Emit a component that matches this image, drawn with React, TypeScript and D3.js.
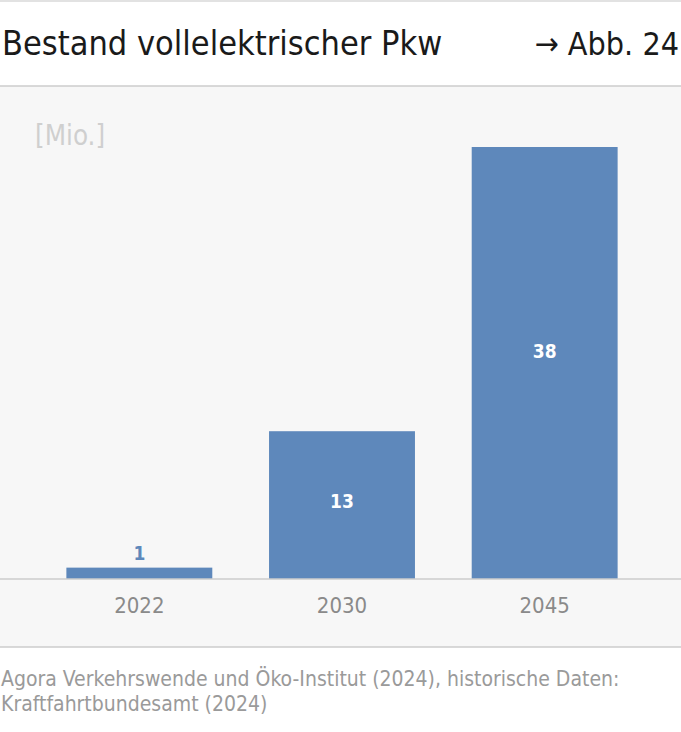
import React from "react";
import * as d3 from "d3";

const categories = ["2022", "2030", "2045"];
const values = [1, 13, 38];
const valueLabels = ["1", "13", "38"];
const title = "Bestand vollelektrischer Pkw";
const figRef = "→ Abb. 24";
const unitLabel = "[Mio.]";
const sourceLines = [
  "Agora Verkehrswende und Öko-Institut (2024), historische Daten:",
  "Kraftfahrtbundesamt (2024)",
];

const W = 681;
const H = 732;
const FONT = "'DejaVu Sans Condensed', 'Liberation Sans Narrow', 'Roboto', sans-serif";

export default function App() {
  const baseY = 579;
  const x = d3
    .scaleBand<string>()
    .domain(categories)
    .range([38, 646])
    .paddingInner(0.28)
    .paddingOuter(0.14);
  const y = d3.scaleLinear().domain([0, 38]).range([baseY, 147]);
  const barColor = "#5e88bb";

  return (
    <svg
      width={W}
      height={H}
      style={{ position: "absolute", left: 0, top: 0, background: "#fff" }}
      fontFamily={FONT}
    >
      <rect x={0} y={0} width={W} height={H} fill="#fff" />
      <line x1={0} x2={W} y1={1} y2={1} stroke="#d9d9d9" strokeWidth={1.5} />
      <text x={2} y={55} fontSize={34} fill="#1a1a1a">
        {title}
      </text>
      <text x={679} y={55} fontSize={32} fill="#1a1a1a" textAnchor="end">
        {figRef}
      </text>
      <rect x={0} y={86} width={W} height={561} fill="#f7f7f7" />
      <line x1={0} x2={W} y1={86} y2={86} stroke="#cccccc" strokeWidth={1.5} />
      <line x1={0} x2={W} y1={647} y2={647} stroke="#cccccc" strokeWidth={1.5} />
      <text x={35} y={145} fontSize={27.5} fill="#cfcfcf">
        {unitLabel}
      </text>
      {categories.map((c, i) => {
        const bx = x(c)!;
        const bw = x.bandwidth();
        const top = y(values[i]);
        const h = baseY - top;
        const inside = h > 40;
        return (
          <g key={c}>
            <rect x={bx} y={top} width={bw} height={h} fill={barColor} />
            <text
              x={bx + bw / 2}
              y={inside ? baseY - h * 0.527 + 7 : top - 8}
              fontSize={19}
              fontWeight="bold"
              fill={inside ? "#ffffff" : barColor}
              textAnchor="middle"
            >
              {valueLabels[i]}
            </text>
            <text
              x={bx + bw / 2}
              y={613}
              fontSize={22}
              fill="#8a8a8a"
              textAnchor="middle"
            >
              {c}
            </text>
          </g>
        );
      })}
      <line x1={0} x2={W} y1={baseY} y2={baseY} stroke="#cccccc" strokeWidth={1.5} />
      {sourceLines.map((s, i) => (
        <text key={i} x={1} y={686} fontSize={21} fill="#9a9a9a" dy={i * 25}>
          {s}
        </text>
      ))}
    </svg>
  );
}
